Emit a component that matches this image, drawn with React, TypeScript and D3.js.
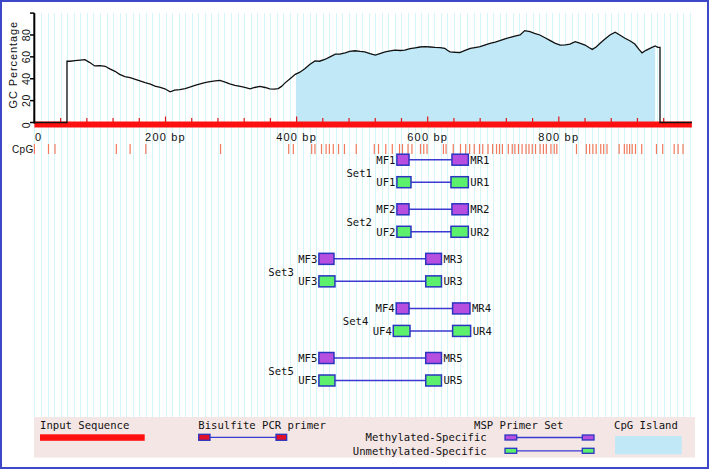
import React from 'react';
import * as d3 from 'd3';

const seqLength = 1003;
const islandStart = 399;
const islandEnd = 947;

// GC percentage profile: [bp position, GC %]
const gcProfile: [number, number][] = [
  [0, 0], [49.7, 0], [49.7, 56], [54, 56], [62, 56.5], [70, 57], [77, 57.5], [84, 55], [92, 51.7], [100, 52],
  [108, 51.4], [115, 49], [123, 46.8], [130, 44], [138, 42], [146, 41], [154, 39.4], [161, 38], [169, 36.4],
  [177, 35], [184, 33.2], [192, 32], [199, 30.8], [207, 28], [214, 29.5], [222, 30], [230, 31], [237, 32.3],
  [245, 34], [253, 35.4], [260, 36.5], [268, 37.3], [276, 38], [283, 38.5], [291, 37], [298, 35.4], [306, 34],
  [314, 33], [321, 32], [329, 30.8], [336, 32], [344, 33], [352, 32], [359, 30.8], [366, 30.5], [372, 31],
  [377, 33], [382, 36], [390, 40], [398, 44], [405, 46], [413, 49.3], [420, 53], [428, 56.3], [435, 56],
  [443, 57.6], [451, 60], [459, 62.5], [466, 62.5], [474, 63.7], [481, 65], [489, 65.6], [497, 65], [504, 64.6],
  [512, 63], [520, 61.6], [527, 63], [535, 64.6], [543, 65.5], [550, 66.2], [558, 65.8], [565, 66.2], [573, 67.5],
  [581, 68.3], [588, 69], [596, 69.3], [604, 69], [611, 68.7], [619, 68.5], [626, 67.8], [630, 66], [634, 64.6],
  [642, 64.2], [649, 64], [657, 66], [665, 67.8], [672, 68.5], [680, 69.3], [688, 71], [695, 72.4], [703, 73.5],
  [710, 74.8], [718, 76.5], [726, 77.9], [733, 79], [741, 80], [748, 84], [756, 83], [763, 81.5], [771, 80],
  [779, 77.5], [787, 74.8], [794, 72.5], [802, 70.8], [810, 71], [817, 71.7], [825, 73.9], [832, 72.5],
  [840, 70.8], [846, 68.5], [851, 66.8], [857, 69], [863, 72.4], [870, 76], [878, 80], [886, 82.5], [893, 80],
  [901, 77], [909, 74.5], [916, 71.7], [922, 67], [927, 63.7], [933, 66], [939, 67.8], [947, 69.9], [951, 68.7],
  [954.4, 68.7], [954.4, 0], [seqLength, 0]
];

// CpG site positions (bp)
const cpgSites = [
  0, 21.5, 31.4, 125, 146, 170, 284, 388, 395, 423, 428, 438, 445, 450, 456, 464, 473, 491, 518.5, 525, 536,
  546, 557, 561.5, 570, 576, 589, 594, 599, 624, 628, 639, 650, 658, 664, 671, 679, 684, 692, 699, 705, 709.5,
  714, 723, 729, 733, 738.5, 744, 750, 754.5, 759.5, 764.5, 771.5, 776.5, 781, 788, 793, 797, 827, 842, 847,
  852, 857, 864, 868.5, 873.5, 892, 900, 904, 908, 912, 917, 926.5, 949, 958.5, 976, 982, 989.5
];

// MSP primer sets: [start, end] in bp
const setNames = ['Set1', 'Set2', 'Set3', 'Set4', 'Set5'];
const mfPrimers: [number, number][] = [[553, 571.5], [553, 571.5], [434, 457], [552, 571.5], [434, 457]];
const mrPrimers: [number, number][] = [[637, 662], [637, 662], [597, 621], [638, 664.5], [597, 621]];
const ufPrimers: [number, number][] = [[553, 574.5], [553, 574.5], [434, 458.5], [547.5, 573], [434, 458.5]];
const urPrimers: [number, number][] = [[635.5, 662], [635.5, 662], [597, 621], [638, 665.5], [597, 621]];

const yTicks = [0, 20, 40, 60, 80, 100];
const xLabels = [0, 200, 400, 600, 800];

const MONO = '"DejaVu Sans Mono", "Liberation Mono", monospace';
const SANS = '"Liberation Sans", Arial, sans-serif';
const MAGENTA = '#b64fe0';
const GREEN = '#5cf06c';
const BORDER = '#2a35c0';
const LINK = '#3a3ad0';
const ISLAND = '#c0e8f6';
const STRIPE = '#d4f5fa';
const RED = '#ff1010';
const CPG = '#f07a5c';

export default function App() {
  const W = 709, H = 469;
  const x = d3.scaleLinear().domain([0, seqLength]).range([34.4, 34.4 + seqLength * 0.6555]);
  const y = d3.scaleLinear().domain([0, 100]).range([122.5, 13.1]);
  const line = d3.line<[number, number]>().x(d => x(d[0])).y(d => y(d[1]));
  const area = d3.area<[number, number]>().x(d => x(d[0])).y0(y(0)).y1(d => y(d[1]));
  const stripes = d3.range(0, seqLength, 10);
  const ticks = d3.range(0, seqLength - 20, 40);
  const rowY = d3.scaleLinear().domain([0, setNames.length - 1]).range([159.7, 358]);
  const boxH = 11;
  const rowGap = 22.5;

  const primerRow = (
    key: string,
    cy: number,
    f: [number, number],
    r: [number, number],
    fill: string,
    fLabel: string,
    rLabel: string
  ) => (
    <g key={key}>
      <line x1={x(f[1])} x2={x(r[0])} y1={cy} y2={cy} stroke={LINK} strokeWidth={1.5} />
      <rect x={x(f[0])} y={cy - boxH / 2} width={x(f[1]) - x(f[0])} height={boxH} fill={fill} stroke={BORDER} strokeWidth={1.5} />
      <rect x={x(r[0])} y={cy - boxH / 2} width={x(r[1]) - x(r[0])} height={boxH} fill={fill} stroke={BORDER} strokeWidth={1.5} />
      <text x={x(f[0]) - 1.5} y={cy + 3.8} textAnchor="end" fontFamily={MONO} fontSize={10.6} fill="#111">{fLabel}</text>
      <text x={x(r[1]) + 2} y={cy + 3.8} fontFamily={MONO} fontSize={10.6} fill="#111">{rLabel}</text>
    </g>
  );

  return (
    <div style={{ position: 'absolute', left: 0, top: 0 }}>
      <svg width={W} height={H} viewBox={`0 0 ${W} ${H}`} style={{ display: 'block' }}>
        <rect x={0} y={0} width={W} height={H} fill="#ffffff" />
        {/* vertical stripes */}
        {stripes.map(s => (
          <line key={s} x1={Math.round(x(s)) + 0.5} x2={Math.round(x(s)) + 0.5} y1={13} y2={417} stroke={STRIPE} strokeWidth={1} />
        ))}
        {/* CpG island */}
        <defs>
          <clipPath id="island">
            <rect x={x(islandStart)} y={0} width={x(islandEnd) - x(islandStart)} height={130} />
          </clipPath>
        </defs>
        <path d={area(gcProfile) || ''} fill={ISLAND} clipPath="url(#island)" />
        {/* red sequence bar */}
        <rect x={x(0)} y={121.5} width={x(seqLength) - x(0)} height={6} fill={RED} />
        {ticks.map(t => (
          <line key={t} x1={x(t)} x2={x(t)} y1={t % 200 === 0 ? 116.5 : 118} y2={122} stroke="#e01818" strokeWidth={1.2} />
        ))}
        {/* GC line */}
        <path d={line(gcProfile) || ''} fill="none" stroke="#111" strokeWidth={1.3} />
        {/* y axis */}
        <line x1={34.3} x2={34.3} y1={y(100)} y2={y(0) + 1} stroke="#000" strokeWidth={2} />
        {yTicks.map(t => (
          <line key={t} x1={30} x2={34.3} y1={y(t)} y2={y(t)} stroke="#000" strokeWidth={1.5} />
        ))}
        {yTicks.filter(t => t < 100).map(t => (
          <text key={t} transform={`translate(${29.5},${t === 0 ? y(t) + 2.5 : y(t)}) rotate(-90)`} textAnchor="middle" fontFamily={SANS} fontSize={10.5} letterSpacing={0.5} fill="#111">{t}</text>
        ))}
        <text transform={`translate(16.5,${64.7}) rotate(-90)`} textAnchor="middle" fontFamily={SANS} fontSize={11} letterSpacing={0.9} fill="#111">GC Percentage</text>
        {/* x labels */}
        {xLabels.map(t => (
          <text key={t} x={t === 0 ? x(t) + 0.5 : x(t)} y={140.5} textAnchor={t === 0 ? 'start' : 'middle'} fontFamily={SANS} fontSize={11} letterSpacing={1.2} fill="#111">
            {t === 0 ? '0' : `${t}\u00a0bp`}
          </text>
        ))}
        <text x={12} y={153} fontFamily={SANS} fontSize={10} letterSpacing={0.3} fill="#111">CpG</text>
        {/* CpG sites */}
        {cpgSites.map((c, i) => (
          <line key={i} x1={x(c)} x2={x(c)} y1={144} y2={154} stroke={CPG} strokeWidth={1.2} />
        ))}
        {/* primer sets */}
        {setNames.map((name, i) => {
          const my = rowY(i);
          const uy = my + rowGap;
          const n = i + 1;
          const left = Math.min(x(mfPrimers[i][0]), x(ufPrimers[i][0]));
          return (
            <g key={name}>
              <text x={left - 25} y={my + 17} textAnchor="end" fontFamily={MONO} fontSize={10.6} fill="#111">{name}</text>
              {primerRow('m', my, mfPrimers[i], mrPrimers[i], MAGENTA, `MF${n}`, `MR${n}`)}
              {primerRow('u', uy, ufPrimers[i], urPrimers[i], GREEN, `UF${n}`, `UR${n}`)}
            </g>
          );
        })}
        {/* legend */}
        <rect x={34} y={417} width={661} height={40.5} fill="#f5e6e6" />
        <text x={40} y={429} fontFamily={MONO} fontSize={10.6} fill="#111">Input Sequence</text>
        <rect x={40} y={434.3} width={104.7} height={6.5} fill={RED} />
        <text x={198.3} y={429} fontFamily={MONO} fontSize={10.6} fill="#111">Bisulfite PCR primer</text>
        <line x1={210} x2={276} y1={437.3} y2={437.3} stroke={LINK} strokeWidth={1.3} />
        <rect x={198.7} y={434.3} width={11.3} height={6} fill="#e0102a" stroke={BORDER} strokeWidth={1.3} />
        <rect x={276} y={434.3} width={10.7} height={6} fill="#e0102a" stroke={BORDER} strokeWidth={1.3} />
        <text x={563.3} y={429} textAnchor="end" fontFamily={MONO} fontSize={10.6} fill="#111">MSP Primer Set</text>
        <text x={486.7} y={441} textAnchor="end" fontFamily={MONO} fontSize={10.6} fill="#111">Methylated-Specific</text>
        <text x={486.7} y={454.5} textAnchor="end" fontFamily={MONO} fontSize={10.6} fill="#111">Unmethylated-Specific</text>
        <line x1={516.7} x2={582.3} y1={437.5} y2={437.5} stroke={LINK} strokeWidth={1.3} />
        <rect x={505} y={435} width={11.7} height={5} fill={MAGENTA} stroke={BORDER} strokeWidth={1.3} />
        <rect x={582.3} y={435} width={11.7} height={5} fill={MAGENTA} stroke={BORDER} strokeWidth={1.3} />
        <line x1={516.7} x2={582.3} y1={450.8} y2={450.8} stroke={LINK} strokeWidth={1.3} />
        <rect x={505} y={448.3} width={11.7} height={5} fill={GREEN} stroke={BORDER} strokeWidth={1.3} />
        <rect x={582.3} y={448.3} width={11.7} height={5} fill={GREEN} stroke={BORDER} strokeWidth={1.3} />
        <text x={614} y={429} fontFamily={MONO} fontSize={10.6} fill="#111">CpG Island</text>
        <rect x={615} y={436} width={66.7} height={18.3} fill={ISLAND} />
        {/* outer border */}
        <rect x={1} y={1} width={W - 2} height={H - 2} fill="none" stroke="#3c48c8" strokeWidth={2} />
      </svg>
    </div>
  );
}
